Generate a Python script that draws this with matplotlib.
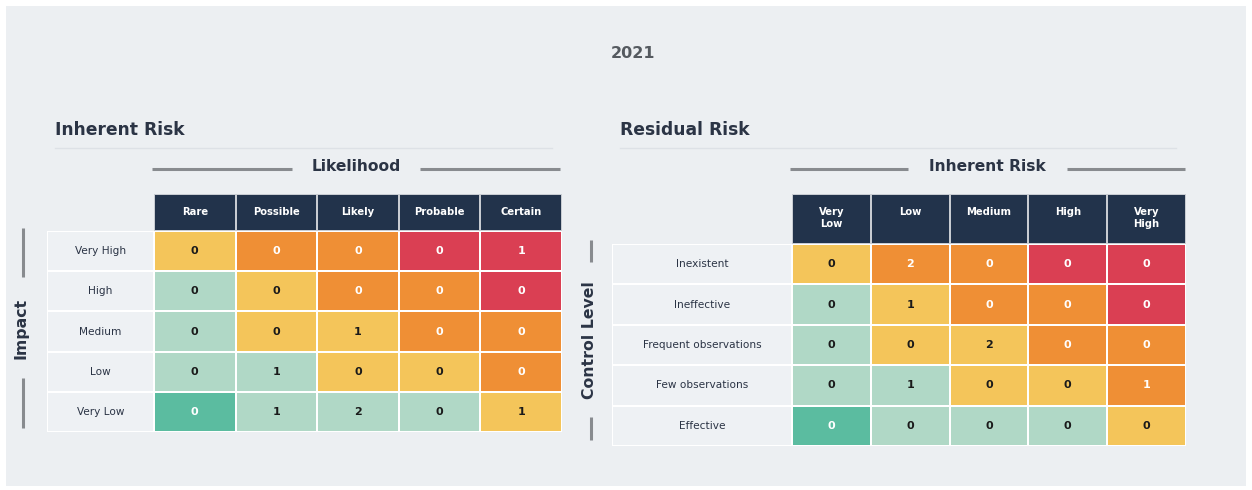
import matplotlib
matplotlib.use("Agg")
import matplotlib.pyplot as plt
import numpy as np
from matplotlib.colors import ListedColormap, BoundaryNorm
from matplotlib.patches import Rectangle

plt.rcParams['font.family'] = ['DejaVu Sans']

# ---------------- data ----------------
title_year = "2021"
left_title = "Inherent Risk"
left_xlabel = "Likelihood"
left_ylabel = "Impact"
left_cols = ["Rare", "Possible", "Likely", "Probable", "Certain"]
left_rows = ["Very High", "High", "Medium", "Low", "Very Low"]
left_values = [[0, 0, 0, 0, 1],
               [0, 0, 0, 0, 0],
               [0, 0, 1, 0, 0],
               [0, 1, 0, 0, 0],
               [0, 1, 2, 0, 1]]

right_title = "Residual Risk"
right_xlabel = "Inherent Risk"
right_ylabel = "Control Level"
right_cols = ["Very\nLow", "Low", "Medium", "High", "Very\nHigh"]
right_rows = ["Inexistent", "Ineffective", "Frequent observations",
              "Few observations", "Effective"]
right_values = [[0, 2, 0, 0, 0],
                [0, 1, 0, 0, 0],
                [0, 0, 2, 0, 0],
                [0, 1, 0, 0, 1],
                [0, 0, 0, 0, 0]]

# risk level of each cell (0 very low ... 4 very high)
risk_levels = [[2, 3, 3, 4, 4],
               [1, 2, 3, 3, 4],
               [1, 2, 2, 3, 3],
               [1, 1, 2, 2, 3],
               [0, 1, 1, 1, 2]]

# ---------------- style ----------------
W, H = 1252, 490
BG = "#eceff2"
CELL_BG = "#eef1f4"
NAVY = "#22334b"
level_colors = ["#5bbca0", "#b0d8c6", "#f4c55a", "#ef8f35", "#da3f53"]
level_text = ["white", "#1a1a1a", "#1a1a1a", "white", "white"]
TXT = "#2b3445"

fig = plt.figure(figsize=(W / 100, H / 100), dpi=100)
fig.patch.set_facecolor("white")

base = fig.add_axes([0, 0, 1, 1])
base.set_xlim(0, W)
base.set_ylim(H, 0)
base.axis("off")
base.add_patch(Rectangle((6, 6), 1240, 480, facecolor=BG, edgecolor="none"))


def ax_px(x0, y0, x1, y1):
    a = fig.add_axes([x0 / W, 1 - y1 / H, (x1 - x0) / W, (y1 - y0) / H])
    a.axis("off")
    return a


base.text(633, 54, title_year, ha="center", va="center", fontsize=11.5,
          fontweight="bold", color="#555a60")


def draw_matrix(cols, rows, values, title, xlabel, ylabel,
                title_x, line_x1, lab_x0, grid_x0, grid_x1, head_y0, head_y1,
                body_y1, xl_lines, yl_x, yl_y, yl_lines, row_fs):
    # title and underline
    base.text(title_x, 130, title, ha="left", va="center", fontsize=12.3,
              fontweight="bold", color=TXT)
    base.plot([title_x, line_x1], [148, 148], color="#dde1e6", lw=1)
    # x label with side lines
    base.text((xl_lines[0][1] + xl_lines[1][0]) / 2, 166, xlabel, ha="center",
              va="center", fontsize=11.2, fontweight="bold", color=TXT)
    for (a, b) in xl_lines:
        base.plot([a, b], [169, 169], color="#888b8f", lw=2.2,
                  solid_capstyle="butt")
    # y label with side lines
    base.text(yl_x, yl_y, ylabel, ha="center", va="center", rotation=90,
              fontsize=11.3, fontweight="bold", color=TXT)
    for (a, b) in yl_lines:
        base.plot([yl_x + 2, yl_x + 2], [a, b], color="#888b8f", lw=2.2,
                  solid_capstyle="butt")

    n_r, n_c = len(rows), len(cols)
    lev = np.array(risk_levels)
    cmap = ListedColormap(level_colors)
    norm = BoundaryNorm(np.arange(-0.5, 5.5, 1), cmap.N)

    # body
    ab = ax_px(grid_x0, head_y1, grid_x1, body_y1)
    ab.pcolormesh(np.arange(n_c + 1), np.arange(n_r + 1), lev, cmap=cmap,
                  norm=norm, edgecolors="white", linewidth=1.2)
    ab.set_xlim(0, n_c)
    ab.set_ylim(n_r, 0)
    for i in range(n_r):
        for j in range(n_c):
            ab.text(j + 0.5, i + 0.5, str(values[i][j]), ha="center",
                    va="center", fontsize=8, fontweight="bold",
                    color=level_text[lev[i, j]])

    # header
    ah = ax_px(grid_x0, head_y0, grid_x1, head_y1)
    ah.pcolormesh(np.arange(n_c + 1), [0, 1], np.zeros((1, n_c)),
                  cmap=ListedColormap([NAVY]), edgecolors="#c8ccd2",
                  linewidth=1.2)
    ah.set_xlim(0, n_c)
    ah.set_ylim(1, 0)
    two_line = any("\n" in c for c in cols)
    for j, c in enumerate(cols):
        if two_line:
            yy = 0.48 if "\n" in c else 0.36
        else:
            yy = 0.48
        ah.text(j + 0.5, yy, c, ha="center", va="center", fontsize=7.2,
                fontweight="bold", color="white", linespacing=1.15)

    # row labels
    al = ax_px(lab_x0, head_y1, grid_x0, body_y1)
    al.pcolormesh([0, 1], np.arange(n_r + 1), np.zeros((n_r, 1)),
                  cmap=ListedColormap([CELL_BG]), edgecolors="white",
                  linewidth=1.2)
    al.set_xlim(0, 1)
    al.set_ylim(n_r, 0)
    for i, r in enumerate(rows):
        al.text(0.5, i + 0.5, r, ha="center", va="center", fontsize=row_fs,
                color=TXT)


draw_matrix(left_cols, left_rows, left_values, left_title, left_xlabel,
            left_ylabel, title_x=55, line_x1=552, lab_x0=47, grid_x0=154,
            grid_x1=562, head_y0=194, head_y1=231, body_y1=432,
            xl_lines=[(152, 292), (420, 560)], yl_x=21, yl_y=328,
            yl_lines=[(228, 277), (378, 428)], row_fs=7.6)

draw_matrix(right_cols, right_rows, right_values, right_title, right_xlabel,
            right_ylabel, title_x=620, line_x1=1176, lab_x0=612, grid_x0=792,
            grid_x1=1186, head_y0=194, head_y1=244, body_y1=446,
            xl_lines=[(790, 908), (1067, 1185)], yl_x=589, yl_y=340,
            yl_lines=[(240, 262), (417, 440)], row_fs=7.6)

fig.savefig("out.png", dpi=100, facecolor=fig.get_facecolor())
